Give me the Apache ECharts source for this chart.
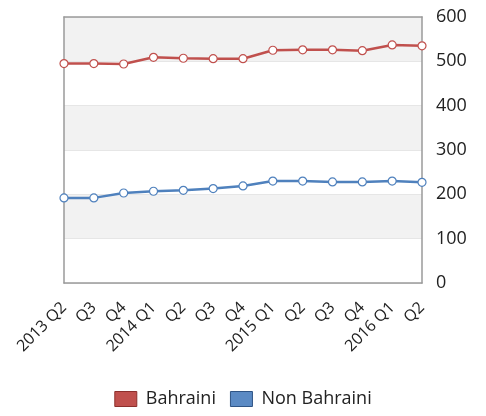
<!DOCTYPE html>
<html><head><meta charset="utf-8">
<script src="https://cdn.jsdelivr.net/npm/echarts@6/dist/echarts.min.js"></script>
<style>html,body{margin:0;padding:0;background:#fff}#c{width:486px;height:416px}</style>
</head><body><div id="c"></div>
<script>
var categories = ['2013 Q2','Q3','Q4','2014 Q1','Q2','Q3','Q4','2015 Q1','Q2','Q3','Q4','2016 Q1','Q2'];
var bahraini = [495, 495, 494, 509, 507, 506, 506, 525, 526, 526, 524, 537, 535];
var nonBahraini = [192, 192, 203, 207, 209, 213, 219, 230, 230, 228, 228, 230, 227];
var yTicks = [0, 100, 200, 300, 400, 500, 600];

var chart = echarts.init(document.getElementById('c'));
var font = '"Open Sans", "Noto Sans", sans-serif';
var frame = { show: true, onZero: false, lineStyle: { color: '#9a9a9a', width: 1.5 } };
function lineSeries(name, data, color) {
  return {
    name: name, type: 'line', data: data,
    symbol: 'circle', symbolSize: 8,
    lineStyle: { color: color, width: 2.5 },
    itemStyle: { color: '#fff', borderColor: color, borderWidth: 1.2 },
    z: 3
  };
}
chart.setOption({
  animation: false,
  grid: { left: 64, right: 64, top: 17, bottom: 133 },
  legend: {
    bottom: 3, left: 'center', itemWidth: 22, itemHeight: 15, itemGap: 14,
    textStyle: { fontFamily: font, fontSize: 18, color: '#222', padding: [0, 0, 0, 4] },
    data: [
      { name: 'Bahraini', icon: 'rect', itemStyle: { color: '#c0504d', borderColor: '#8c2f2c', borderWidth: 1 } },
      { name: 'Non Bahraini', icon: 'rect', itemStyle: { color: '#5b8ac4', borderColor: '#2f5485', borderWidth: 1 } }
    ]
  },
  xAxis: [{
    type: 'category', data: categories, boundaryGap: false,
    axisLine: frame, axisTick: { show: false },
    axisLabel: { rotate: 45, fontFamily: font, fontSize: 16, color: '#222', margin: 22, interval: 0 }
  }, {
    type: 'category', data: categories, boundaryGap: false, position: 'top',
    axisLine: frame, axisTick: { show: false }, axisLabel: { show: false }
  }],
  yAxis: [{
    type: 'value', position: 'left', min: yTicks[0], max: yTicks[yTicks.length - 1], interval: 100,
    axisLine: frame, axisTick: { show: false }, axisLabel: { show: false },
    splitLine: { show: true, lineStyle: { color: '#e6e6e6', width: 1 } },
    splitArea: { show: true, areaStyle: { color: ['#ffffff', '#f2f2f2'] } }
  }, {
    type: 'value', position: 'right', min: yTicks[0], max: yTicks[yTicks.length - 1], interval: 100,
    axisLine: frame, axisTick: { show: false },
    axisLabel: { fontFamily: font, fontSize: 18, color: '#222', margin: 14 },
    splitLine: { show: false }, splitArea: { show: false }
  }],
  series: [
    lineSeries('Bahraini', bahraini, '#c0504d'),
    lineSeries('Non Bahraini', nonBahraini, '#4f81bd')
  ]
});
</script></body></html>
